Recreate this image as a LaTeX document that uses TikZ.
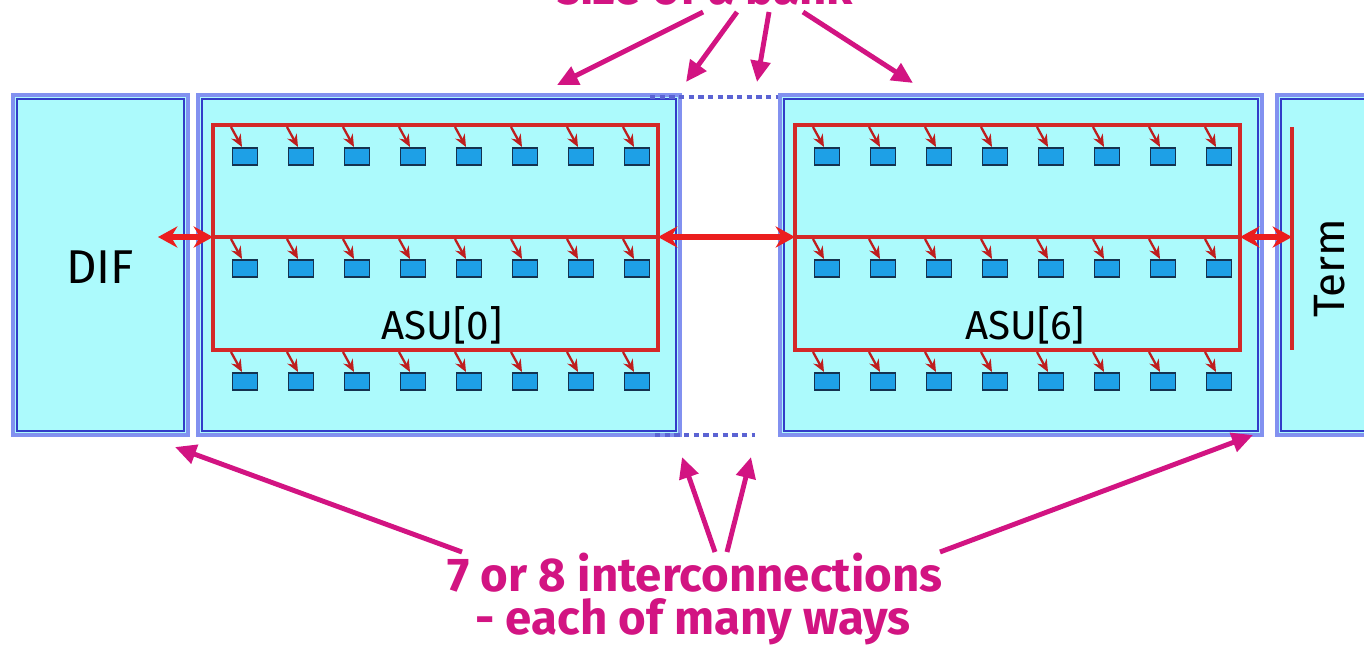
\documentclass[tikz,border=0pt]{standalone}
\usepackage{fontspec}
\setmainfont{Fira Sans}
\usetikzlibrary{arrows.meta}

\definecolor{cellcyan}{RGB}{172,250,252}
\definecolor{frameblue}{RGB}{130,145,240}
\definecolor{framedark}{RGB}{50,60,200}
\definecolor{busred}{RGB}{212,40,40}
\definecolor{tickred}{RGB}{190,30,30}
\definecolor{chipblue}{RGB}{30,160,230}
\definecolor{chipedge}{RGB}{20,50,80}
\definecolor{notepink}{RGB}{210,20,130}
\definecolor{linkred}{RGB}{235,30,30}

\tikzset{
  unitbox/.style={draw=frameblue, line width=2.5pt, fill=cellcyan},
  unitline/.style={draw=framedark, line width=0.7pt},
  bus/.style={draw=busred, line width=2.2pt},
  chip/.style={draw=chipedge, line width=0.9pt, fill=chipblue},
  tick/.style={tickred, line width=1.3pt, -{Stealth[length=7pt,width=6pt]}},
  link/.style={linkred, line width=3pt, {Stealth[length=11pt,width=12pt]}-{Stealth[length=11pt,width=12pt]}},
  note/.style={notepink, line width=2.8pt, -{Triangle[length=12pt,width=11pt]}},
  gap/.style={framedark!80, line width=2pt, dash pattern=on 3pt off 2.5pt},
  boxlabel/.style={font=\fontsize{23}{27}\selectfont, text=black},
  notetext/.style={font=\bfseries\fontsize{27}{31}\selectfont, text=notepink}
}

\begin{document}
\begin{tikzpicture}[x=0.02cm, y=-0.02cm]
  \useasboundingbox (0,0) rectangle (1364,653);
  \begin{scope}
    \clip (0,0) rectangle (1364,653);

    % the four units
    \draw[unitbox] (13,95) rectangle (188,435);
    \draw[unitline] (17,99) rectangle (184,431);
    \foreach \off in {0,582} {
      \draw[unitbox] (198+\off,95) rectangle (680+\off,435);
      \draw[unitline] (202+\off,99) rectangle (676+\off,431);
    }
    \draw[unitbox] (1277,95) rectangle (1380,435);
    \draw[unitline] (1281,99) rectangle (1376,431);

    % bank edges between the two ASUs
    \draw[gap] (650,97) -- (778,97);
    \draw[gap] (655,435) -- (755,435);

    % buses and banks
    \foreach \off in {0,582} {
      \draw[bus] (213+\off,125) rectangle (658+\off,350);
      \draw[bus] (213+\off,237) -- (658+\off,237);
      \foreach \k in {0,...,7}
        \foreach \y in {148,260,373} {
          \draw[tick] (231+\off+56*\k,\y-21) -- (242+\off+56*\k,\y-1);
          \draw[chip] (232.5+\off+56*\k,\y) rectangle ++(25,17);
        }
    }
    \draw[bus] (1292,127) -- (1292,350);

    % labels
    \node[boxlabel, font=\fontsize{27}{31}\selectfont] (dif) at (100,267) {DIF};
    \node[boxlabel] (asu0) at (442,325) {ASU[0]};
    \node[boxlabel] (asu6) at (1025,325) {ASU[6]};
    \node[boxlabel, font=\fontsize{25}{29}\selectfont, rotate=90] (term) at (1330,268) {Term};

    % links along the chain
    \coordinate (difport) at (158,237);
    \coordinate (bus0w) at (213,237);
    \coordinate (bus0e) at (658,237);
    \coordinate (bus6w) at (795,237);
    \coordinate (bus6e) at (1240,237);
    \coordinate (termbus) at (1292,237);
    \draw[link] (difport) -- (bus0w);
    \draw[link] (bus0e) -- (bus6w);
    \draw[link] (bus6e) -- (termbus);

    % notes
    \node[notetext, anchor=base] (bank) at (705,4) {size of a bank};
    \node[notetext] (inter) at (695,573) {7 or 8 interconnections};
    \node[notetext] (ways) at (693,622) {- each of many ways};

    \coordinate (t1) at (703,12);  \coordinate (h1) at (557,85);
    \coordinate (t2) at (737,12);  \coordinate (h2) at (686,82);
    \coordinate (t3) at (769,12);  \coordinate (h3) at (757,82);
    \coordinate (t4) at (803,12);  \coordinate (h4) at (913,83);
    \foreach \i in {1,...,4}
      \draw[note] (t\i) -- (h\i);

    \coordinate (b1) at (462,552); \coordinate (g1) at (175,447);
    \coordinate (b2) at (715,552); \coordinate (g2) at (682,457);
    \coordinate (b3) at (727,552); \coordinate (g3) at (751,457);
    \coordinate (b4) at (940,552); \coordinate (g4) at (1253,435);
    \foreach \i in {1,...,4}
      \draw[note] (b\i) -- (g\i);
  \end{scope}
\end{tikzpicture}
\end{document}
